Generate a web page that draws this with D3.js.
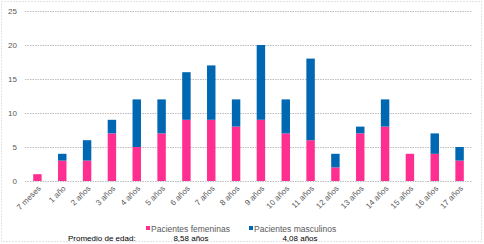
<!DOCTYPE html>
<html>
<head>
<meta charset="utf-8">
<script src="https://cdn.jsdelivr.net/npm/d3@7"></script>
<style>
  body { margin: 0; background: #fff; }
  text { font-family: "Liberation Sans", Arial, sans-serif; }
</style>
</head>
<body>
<svg id="chart"></svg>
<script>
const categories = ['7 meses', '1 año', '2 años', '3 años', '4 años', '5 años', '6 años', '7 años', '8 años',
    '9 años', '10 años', '11 años', '12 años', '13 años', '14 años', '15 años', '16 años', '17 años'];
const femeninas = [1, 3, 3, 7, 5, 7, 9, 9, 8, 9, 7, 6, 2, 7, 8, 4, 4, 3];
const masculinos = [0, 1, 3, 2, 7, 5, 7, 8, 4, 11, 5, 12, 2, 1, 4, 0, 3, 2];
const yticks = [0, 5, 10, 15, 20, 25];
const series_names = ['Pacientes femeninas', 'Pacientes masculinos'];
const promedios = ['8,58 años', '4,08 años'];

const width = 484, height = 244;
const margin = { top: 11, right: 12, bottom: 63, left: 25 };
const colors = ['#ff2f92', '#0067b2'];

const svg = d3.select('#chart')
    .attr('width', width)
    .attr('height', height);

// dotted outer frame
svg.append('rect')
    .attr('x', 1.5).attr('y', 1.5)
    .attr('width', width - 4).attr('height', height - 4)
    .attr('fill', 'none')
    .attr('stroke', '#c8c8c8')
    .attr('stroke-dasharray', '1,2');

const inner_width = width - margin.left - margin.right;
const inner_height = 181 - margin.top;

const chart = svg.append('g')
    .attr('transform', `translate(${margin.left}, ${margin.top})`);

const xscale = d3.scaleBand()
    .domain(categories)
    .range([0, inner_width])
    .paddingInner(0.66)
    .paddingOuter(0.33);

const yscale = d3.scaleLinear()
    .domain([0, 25])
    .range([inner_height, 0]);

// gridlines
chart.append('g')
    .selectAll('line')
    .data(yticks)
    .join('line')
    .attr('x1', 0)
    .attr('x2', inner_width)
    .attr('y1', d => Math.round(yscale(d)) + 0.5)
    .attr('y2', d => Math.round(yscale(d)) + 0.5)
    .attr('stroke', '#bdbdbd')
    .attr('stroke-dasharray', '1.5,1');

const yaxis = d3.axisLeft(yscale)
    .tickValues(yticks)
    .tickSize(0)
    .tickPadding(8);

chart.append('g')
    .call(yaxis)
    .call(g => g.select('.domain').remove())
    .call(g => g.selectAll('text')
        .attr('fill', '#595959')
        .attr('font-size', 8));

const stacked = d3.stack()
    .keys([0, 1])
    .value((d, k) => k === 0 ? femeninas[d] : masculinos[d])(d3.range(categories.length));

chart.append('g')
    .selectAll('g')
    .data(stacked)
    .join('g')
    .attr('fill', (d, i) => colors[i])
    .selectAll('rect')
    .data(d => d.map((v, i) => ({ v, i })))
    .join('rect')
    .attr('x', d => xscale(categories[d.i]))
    .attr('width', xscale.bandwidth())
    .attr('y', d => yscale(d.v[1]))
    .attr('height', d => yscale(d.v[0]) - yscale(d.v[1]));

const xaxis = d3.axisBottom(xscale)
    .tickSize(0)
    .tickSizeOuter(0);

chart.append('g')
    .attr('transform', `translate(0, ${inner_height})`)
    .call(xaxis)
    .call(g => g.select('.domain').remove())
    .call(g => g.selectAll('text')
        .attr('fill', '#595959')
        .attr('font-size', 8)
        .attr('text-anchor', 'end')
        .attr('dy', 0)
        .attr('y', 0)
        .attr('transform', 'translate(4, 8) rotate(-45)'));

// legend
const legend_x = [146, 249];
const legend = svg.append('g');
legend.selectAll('rect')
    .data(series_names)
    .join('rect')
    .attr('x', (d, i) => legend_x[i])
    .attr('y', 226)
    .attr('width', 4)
    .attr('height', 4)
    .attr('fill', (d, i) => colors[i]);

legend.selectAll('text.name')
    .data(series_names)
    .join('text')
    .attr('class', 'name')
    .attr('x', (d, i) => legend_x[i] + 5)
    .attr('y', 232)
    .attr('font-size', 8.5)
    .attr('fill', '#595959')
    .text(d => d);

svg.append('text')
    .attr('x', 68)
    .attr('y', 241)
    .attr('font-size', 8)
    .attr('fill', '#000')
    .text('Promedio de edad:');

legend.selectAll('text.avg')
    .data(promedios)
    .join('text')
    .attr('class', 'avg')
    .attr('x', (d, i) => [191, 300][i])
    .attr('y', 241)
    .attr('text-anchor', 'middle')
    .attr('font-size', 8)
    .attr('fill', '#000')
    .text(d => d);
</script>
</body>
</html>
